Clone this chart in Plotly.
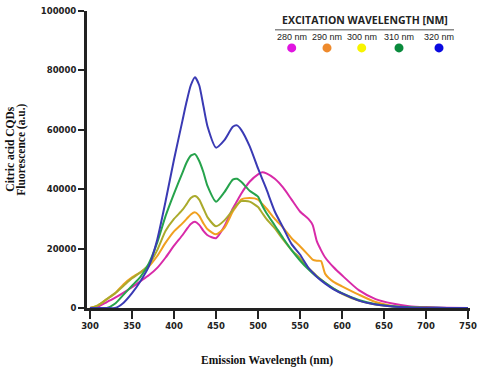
import plotly.graph_objects as go

# ---------------- data ----------------
wavelength = [300, 310, 320, 330, 340, 350, 360, 370, 380, 390, 400, 410, 415, 420, 425, 430, 435, 440,
              450, 460, 470, 475, 480, 490, 500, 505, 510, 520, 530, 540, 550, 560, 565, 570, 575, 580,
              590, 600, 620, 640, 660, 680, 700, 725, 750]

ex_280 = [0, 500, 2000, 3500, 5200, 7000, 9000, 11000, 13500, 17000, 21000, 24500, 26500, 28300, 29000, 28000, 26000, 24500,
          23500, 27500, 33500, 36000, 38500, 42500, 45000, 45700, 45300, 43500, 40500, 36500, 32500, 30000, 28000, 22500, 19500, 17000,
          13700, 11000, 6000, 3000, 1500, 600, 300, 100, 0]
ex_290 = [0, 1000, 3000, 5000, 8000, 10300, 12000, 14000, 17500, 22000, 25800, 28500, 30000, 31500, 32200, 31000, 28500, 26500,
          24800, 27000, 32500, 34500, 36500, 37000, 36500, 35000, 33500, 30000, 27000, 23500, 20800, 17800, 16300, 15900, 15800, 11500,
          8800, 7300, 4500, 2000, 700, 200, 50, 0, 0]
ex_300 = [0, 1000, 3000, 5000, 7500, 10000, 12000, 14500, 19500, 26000, 30000, 33000, 35000, 37000, 37700, 36500, 33500, 30500,
          27500, 29500, 33000, 34800, 36000, 35800, 34000, 32000, 30000, 26800, 23000, 19500, 16800, 13500, 12100, 10800, 9600, 8500,
          6500, 4800, 2500, 1200, 500, 200, 50, 0, 0]
ex_310 = [0, 0, 0, 1500, 4500, 7500, 10500, 15000, 22000, 31000, 38500, 45500, 49000, 51300, 51800, 49500, 45700, 41000,
          35800, 39000, 43200, 43500, 42500, 39500, 37500, 34500, 32000, 27800, 23500, 19500, 16000, 13000, 11700, 10500, 9500, 8500,
          6500, 5000, 2700, 1300, 600, 250, 100, 0, 0]
ex_320 = [0, 0, 0, 0, 1800, 5000, 9000, 14000, 23000, 36000, 50000, 63000, 69500, 75000, 77700, 75000, 68000, 61000,
          54000, 56500, 61000, 61500, 60000, 54500, 47000, 43500, 40000, 32500, 27000, 21500, 18000, 13500, 12000, 10500, 9300, 8200,
          6300, 4900, 2500, 1200, 500, 200, 100, 0, 0]

series_names = ["280 nm", "290 nm", "300 nm", "310 nm", "320 nm"]
series_values = [ex_280, ex_290, ex_300, ex_310, ex_320]
line_colors = ["#d82aa8", "#f0a020", "#aaaa2c", "#26a34c", "#3a3ab4"]
dot_colors = ["#e014e0", "#ee8a2c", "#f8f400", "#0a8a3c", "#0a0ae0"]

x_ticks = [300, 350, 400, 450, 500, 550, 600, 650, 700, 750]
y_ticks = [0, 20000, 40000, 60000, 80000, 100000]

# ---------------- figure ----------------
W, H = 486, 369
ML, MR, MT, MB = 87, 16, 6, 61
PW, PH = W - ML - MR, H - MT - MB


def px(xp):
    return (xp - ML) / PW


def py(yp):
    return (H - MB - yp) / PH


fig = go.Figure()
for name, vals, col in zip(series_names, series_values, line_colors):
    fig.add_trace(go.Scatter(x=wavelength, y=vals, name=name, mode="lines",
                             line=dict(color=col, width=2, shape="spline", smoothing=0.6),
                             showlegend=False, hoverinfo="x+y+name"))

tick_font = dict(family="DejaVu Sans", size=8.5, color="#222222", weight="bold")
fig.update_layout(
    width=W, height=H,
    margin=dict(l=ML, r=MR, t=MT, b=MB, pad=0),
    paper_bgcolor="white", plot_bgcolor="white",
    showlegend=False,
    xaxis=dict(range=[296.4, 752.4], tickvals=x_ticks, ticktext=[str(v) for v in x_ticks],
               ticks="outside", ticklen=8, tickwidth=2, tickcolor="#222222",
               showline=True, linewidth=3, linecolor="#222222",
               showgrid=False, zeroline=False, tickfont=tick_font),
    yaxis=dict(range=[0, 100000], tickvals=y_ticks, ticktext=[str(v) for v in y_ticks],
               ticks="outside", ticklen=6, tickwidth=2, tickcolor="#222222",
               showline=True, linewidth=3, linecolor="#222222",
               showgrid=False, zeroline=False, tickfont=tick_font),
)

title_font = dict(family="Liberation Serif", size=11.5, color="#111111", weight="bold")
annotations = [
    dict(text="Emission Wavelength (nm)", x=px(267), y=py(361), xref="paper", yref="paper",
         xanchor="center", yanchor="middle", showarrow=False, font=title_font),
    dict(text="Citric acid CQDs", x=px(10), y=py(147), xref="paper", yref="paper", textangle=-90,
         xanchor="center", yanchor="middle", showarrow=False, font=title_font),
    dict(text="Fluorescence (a.u.)", x=px(22), y=py(147), xref="paper", yref="paper", textangle=-90,
         xanchor="center", yanchor="middle", showarrow=False, font=title_font),
    dict(text="EXCITATION WAVELENGTH [NM]", x=px(365), y=py(15), xref="paper", yref="paper",
         xanchor="center", yanchor="middle", showarrow=False,
         font=dict(family="Open Sans", size=10.5, color="#222222", weight="bold")),
]
shapes = [
    dict(type="line", xref="paper", yref="paper", x0=px(275), x1=px(454), y0=py(25), y1=py(25),
         line=dict(color="#8a8a8a", width=1.5)),
]
legend_x = [291.7, 327, 361.7, 399, 439]
for lx, name, dc in zip(legend_x, series_names, dot_colors):
    annotations.append(dict(text=name, x=px(lx), y=py(32), xref="paper", yref="paper",
                            xanchor="center", yanchor="middle", showarrow=False,
                            font=dict(family="Liberation Sans", size=9, color="#222222")))
    shapes.append(dict(type="circle", xref="paper", yref="paper",
                       xsizemode="pixel", ysizemode="pixel",
                       xanchor=px(lx), yanchor=py(43.5), x0=-4.5, x1=4.5, y0=-4.5, y1=4.5,
                       fillcolor=dc, line=dict(color=dc, width=0)))

fig.update_layout(annotations=annotations, shapes=shapes)
fig.write_html("out.html", config={"displayModeBar": False},
               post_script="document.body.style.margin='0px';document.body.style.overflow='hidden';")
